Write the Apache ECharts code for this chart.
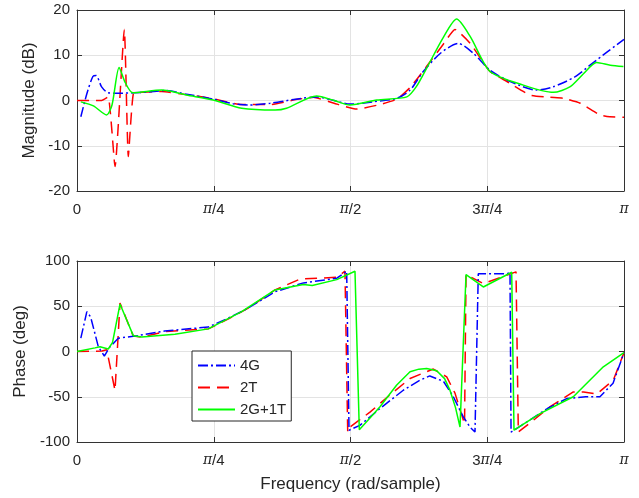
<!DOCTYPE html>
<html>
<head>
<meta charset="utf-8">
<script src="https://cdn.jsdelivr.net/npm/echarts@6/dist/echarts.min.js"></script>
<style>
  html, body { margin: 0; padding: 0; background: #fff; }
  #chart { width: 639px; height: 498px; }
</style>
</head>
<body>
<div id="chart"></div>
<script>
// frequency is given as a fraction of pi (0..1)
const seriesNames = ['4G', '2T', '2G+1T'];
const xTickLabels = ['0', '{i|π}/4', '{i|π}/2', '3{i|π}/4', '{i|π}'];

// magnitude (dB)
const magFreq4G = [0.007, 0.018, 0.029, 0.035, 0.045, 0.057, 0.075, 0.103, 0.13, 0.161, 0.2, 0.249, 0.285, 0.313, 0.353, 0.40, 0.438, 0.47, 0.499, 0.54, 0.585, 0.609, 0.633, 0.665, 0.697, 0.725, 0.755, 0.79, 0.84, 0.87, 0.91, 0.938, 0.97, 1.0];
const mag4G = [-3.6, 1.5, 5.3, 5.5, 3.0, 1.7, 1.6, 1.7, 1.9, 2.2, 1.4, 0.3, -0.7, -1.0, -0.6, 0.3, 0.8, 0.0, -0.8, -0.3, 0.5, 2.3, 6.4, 10.5, 12.6, 10.4, 6.7, 4.3, 2.3, 3.0, 5.2, 7.8, 10.8, 13.5];

const magFreq2T = [0.0, 0.045, 0.057, 0.0695, 0.0865, 0.0938, 0.103, 0.118, 0.155, 0.2, 0.249, 0.3, 0.353, 0.40, 0.432, 0.47, 0.511, 0.55, 0.585, 0.61, 0.639, 0.67, 0.691, 0.719, 0.755, 0.786, 0.828, 0.865, 0.889, 0.92, 0.956, 0.974, 1.0];
const mag2T = [0.0, 0.0, 0.8, -14.6, 15.7, -12.4, 1.5, 1.8, 2.0, 1.3, 0.4, -0.9, -0.9, 0.2, 0.7, -0.6, -1.9, -1.0, 0.3, 3.0, 7.5, 12.5, 15.7, 12.6, 6.4, 4.2, 1.2, 0.7, 0.5, -0.6, -3.2, -3.6, -3.7];

const magFreq2G1T = [0.007, 0.03, 0.054, 0.064, 0.077, 0.088, 0.102, 0.155, 0.2, 0.249, 0.301, 0.362, 0.383, 0.438, 0.47, 0.499, 0.548, 0.603, 0.62, 0.639, 0.67, 0.694, 0.719, 0.755, 0.816, 0.871, 0.901, 0.925, 0.95, 0.975, 0.999];
const mag2G1T = [-0.3, -1.2, -3.2, -1.0, 7.3, 4.0, 1.7, 2.3, 1.2, 0.1, -1.7, -2.1, -1.7, 1.0, 0.0, -1.0, 0.1, 0.8, 3.0, 7.1, 14.0, 18.0, 14.1, 6.4, 3.4, 1.8, 3.0, 5.8, 8.4, 7.8, 7.5];

// phase (deg)
const phFreq4G = [0.007, 0.018, 0.025, 0.039, 0.050, 0.060, 0.0755, 0.106, 0.16, 0.24, 0.277, 0.313, 0.362, 0.414, 0.475, 0.493, 0.4973, 0.517, 0.554, 0.5965, 0.627, 0.645, 0.67, 0.688, 0.706, 0.7185, 0.7276, 0.7336, 0.786, 0.7916, 0.7935, 0.822, 0.86, 0.8952, 0.93, 0.956, 0.98, 1.0];
const ph4G = [14.7, 44, 38, 5.3, -5, 5, 14.7, 17, 22.7, 27, 37, 48, 66, 75.8, 81, 88.7, -87, -81.7, -63, -42.8, -31.7, -27, -33, -50, -72, -83.5, -89, 86, 86, 87, -89, -78, -63, -52, -50, -50, -35, -1.3];

const phFreq2T = [0.0, 0.0457, 0.0543, 0.0695, 0.0786, 0.1029, 0.1183, 0.161, 0.24, 0.277, 0.313, 0.362, 0.4077, 0.4748, 0.4899, 0.4949, 0.499, 0.5356, 0.572, 0.6088, 0.6514, 0.6759, 0.691, 0.7033, 0.7085, 0.7112, 0.7428, 0.8026, 0.8068, 0.8342, 0.865, 0.9073, 0.926, 0.9501, 0.9805, 1.0];
const ph2T = [0, 0.5, 2, -43, 53.5, 17, 16, 22, 25, 36, 48, 68, 80, 82, 88.7, -89, -83.5, -67, -48, -29.8, -19.4, -28, -46, -70, -80, 85, 75, 88, -89, -76, -61, -44.7, -44.7, -47, -31.7, -1.3];

const phFreq2G1T = [0.0, 0.0329, 0.042, 0.0572, 0.065, 0.0786, 0.1029, 0.1183, 0.179, 0.24, 0.301, 0.362, 0.4137, 0.43, 0.4748, 0.5082, 0.5161, 0.5356, 0.5539, 0.5845, 0.6088, 0.625, 0.6393, 0.6576, 0.672, 0.682, 0.692, 0.7002, 0.7112, 0.7428, 0.7947, 0.7989, 0.8464, 0.9073, 0.9622, 1.0];
const ph2G1T = [0, 4, 5.3, 2.8, 10, 52.4, 17.5, 16, 19, 25, 44, 68, 74, 73, 79.4, 88.7, -86.4, -73.5, -61, -37, -22.4, -19.5, -18.7, -21.3, -30, -43, -62, -83.5, 85, 71.3, 87.6, -87, -68.7, -50, -16.9, -1.3];

const zip = (xs, ys) => xs.map((x, i) => [x, ys[i]]);

const FONT = "'Liberation Sans', Arial, Helvetica, sans-serif";
const frameColor = '#333333';
const gridColor = '#e3e3e3';
const colors = ['#0000ff', '#ff0000', '#00ff00'];
const dashes = [[10, 3, 2, 3], [12, 7], 'solid'];

const grids = [
    { left: 77, right: 15, top: 10, height: 181 },
    { left: 77, right: 15, top: 261, height: 181 }
];

function xAxes(gridIndex, name) {
    const base = {
        type: 'value', gridIndex, min: 0, max: 1, interval: 0.25,
        axisLine: { show: true, onZero: false, lineStyle: { color: frameColor, width: 1 } },
        axisTick: { show: true, inside: true, length: 5, lineStyle: { color: frameColor } }
    };
    return [
        Object.assign({}, base, {
            position: 'bottom',
            name: name || '',
            nameLocation: 'middle',
            nameGap: 34,
            nameTextStyle: { fontFamily: FONT, fontSize: 17, color: '#262626' },
            axisLabel: {
                margin: 11,
                fontFamily: FONT, fontSize: 15, color: '#262626',
                formatter: (v) => xTickLabels[Math.round(v * 4)],
                rich: { i: { fontFamily: "'DejaVu Serif', 'Liberation Serif', serif", fontStyle: 'italic', fontSize: 14, color: '#262626' } }
            },
            splitLine: { show: true, lineStyle: { color: gridColor } }
        }),
        Object.assign({}, base, {
            position: 'top',
            axisLabel: { show: false },
            splitLine: { show: false }
        })
    ];
}

function yAxes(gridIndex, min, max, interval, name) {
    const base = {
        type: 'value', gridIndex, min, max, interval,
        axisLine: { show: true, onZero: false, lineStyle: { color: frameColor, width: 1 } },
        axisTick: { show: true, inside: true, length: 5, lineStyle: { color: frameColor } }
    };
    return [
        Object.assign({}, base, {
            position: 'left',
            name,
            nameLocation: 'middle',
            nameGap: 34,
            nameTextStyle: { fontFamily: FONT, fontSize: 17, color: '#262626' },
            axisLabel: { margin: 7, fontFamily: FONT, fontSize: 15, color: '#262626' },
            splitLine: { show: true, lineStyle: { color: gridColor } }
        }),
        Object.assign({}, base, {
            position: 'right',
            axisLabel: { show: false },
            splitLine: { show: false }
        })
    ];
}

function makeSeries(idx, data, xi, yi, smooth) {
    return {
        name: seriesNames[idx],
        type: 'line',
        xAxisIndex: xi,
        yAxisIndex: yi,
        data,
        symbol: 'none',
        smooth,
        animation: false,
        lineStyle: { color: colors[idx], width: 1.5, type: dashes[idx] },
        itemStyle: { color: colors[idx] },
        z: idx === 2 ? 4 : 3 - idx
    };
}

const series = [
    makeSeries(0, zip(magFreq4G, mag4G), 0, 0, 0.25),
    makeSeries(1, zip(magFreq2T, mag2T), 0, 0, 0.15),
    makeSeries(2, zip(magFreq2G1T, mag2G1T), 0, 0, 0.25),
    makeSeries(0, zip(phFreq4G, ph4G), 2, 2, false),
    makeSeries(1, zip(phFreq2T, ph2T), 2, 2, false),
    makeSeries(2, zip(phFreq2G1T, ph2G1T), 2, 2, false)
];

const chart = echarts.init(document.getElementById('chart'));
chart.setOption({
    backgroundColor: '#ffffff',
    animation: false,
    textStyle: { fontFamily: FONT },
    grid: grids,
    xAxis: [...xAxes(0), ...xAxes(1, 'Frequency (rad/sample)')],
    yAxis: [...yAxes(0, -20, 20, 10, 'Magnitude (dB)'), ...yAxes(1, -100, 100, 50, 'Phase (deg)')],
    legend: {
        data: seriesNames,
        orient: 'vertical',
        left: 192,
        top: 351,
        padding: [7, 5, 4, 5],
        itemWidth: 37,
        itemHeight: 14,
        itemGap: 7,
        itemStyle: { opacity: 0 },
        backgroundColor: '#ffffff',
        borderColor: '#262626',
        borderWidth: 1,
        borderRadius: 0,
        textStyle: { fontFamily: FONT, fontSize: 15, color: '#262626' }
    },
    series
});
</script>
</body>
</html>
